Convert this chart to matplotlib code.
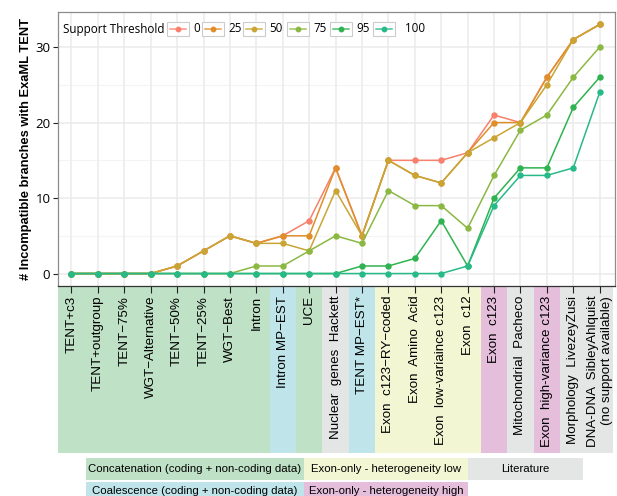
"""Incompatible branches vs. ExaML TENT, per data set and support threshold."""

import matplotlib
matplotlib.use("Agg")
import matplotlib.pyplot as plt
from matplotlib.patches import Rectangle
from matplotlib.lines import Line2D
from matplotlib.transforms import blended_transform_factory

# data sets, left to right
categories = [
    "TENT+c3", "TENT+outgroup", "TENT\u221275%", "WGT\u2212Alternative",
    "TENT\u221250%", "TENT\u221225%", "WGT\u2212Best", "Intron",
    "Intron MP\u2212EST", "UCE", "Nuclear  genes  Hackett", "TENT MP\u2212EST*",
    "Exon  c123\u2212RY\u2212coded", "Exon  Amino  Acid", "Exon  low-variaince c123",
    "Exon  c12", "Exon  c123", "Mitochondrial  Pacheco", "Exon  high-variance c123",
    "Morphology  LivezeyZusi", "DNA-DNA  SibleyAhlquist\n(no support available)",
]
# data type group of each data set
groups = [
    "conc", "conc", "conc", "conc", "conc", "conc", "conc", "conc",
    "coal", "conc", "lit", "coal", "low", "low", "low", "low",
    "high", "lit", "high", "lit", "lit",
]

thresholds = ["0", "25", "50", "75", "95", "100"]
t0 = [0, 0, 0, 0, 1, 3, 5, 4, 5, 7, 14, 5, 15, 15, 15, 16, 21, 20, 26, 31, 33]
t25 = [0, 0, 0, 0, 1, 3, 5, 4, 5, 5, 14, 5, 15, 13, 12, 16, 20, 20, 26, 31, 33]
t50 = [0, 0, 0, 0, 1, 3, 5, 4, 4, 3, 11, 5, 15, 13, 12, 16, 18, 20, 25, 31, 33]
t75 = [0, 0, 0, 0, 0, 0, 0, 1, 1, 3, 5, 4, 11, 9, 9, 6, 13, 19, 21, 26, 30]
t95 = [0, 0, 0, 0, 0, 0, 0, 0, 0, 0, 0, 1, 1, 2, 7, 1, 10, 14, 14, 22, 26]
t100 = [0, 0, 0, 0, 0, 0, 0, 0, 0, 0, 0, 0, 0, 0, 0, 1, 9, 13, 13, 14, 24]
series = [t0, t25, t50, t75, t95, t100]

line_colors = ["#F8806C", "#E08E2A", "#C9A535", "#8BB843", "#2FB350", "#27BA88"]
group_colors = {
    "conc": "#BFE1C6",
    "coal": "#BFE5EA",
    "lit": "#E4E5E5",
    "low": "#F3F6D3",
    "high": "#E5BEDC",
}
group_labels = [
    ("conc", "Concatenation (coding + non-coding data)"),
    ("low", "Exon-only - heterogeneity low"),
    ("lit", "Literature"),
    ("coal", "Coalescence (coding + non-coding data)"),
    ("high", "Exon-only - heterogeneity high"),
]

W, H = 617, 496


def fx(px):
    return px / W


def fy(py):
    return 1 - py / H


def main() -> None:
    fig = plt.figure(figsize=(W / 100, H / 100), dpi=100)
    ax = fig.add_axes([fx(58), fy(286), fx(615) - fx(58), fy(12) - fy(286)])

    x = list(range(1, len(categories) + 1))

    # grid
    for yv in [5, 15, 25]:
        ax.axhline(yv, color="#F4F4F4", lw=0.8, zorder=0)
    for yv in [0, 10, 20, 30]:
        ax.axhline(yv, color="#EBEBEB", lw=1.1, zorder=0)
    for xv in x:
        ax.axvline(xv, color="#EBEBEB", lw=1.1, zorder=0)

    for vals, col in zip(series, line_colors):
        ax.plot(x, vals, color=col, lw=1.1, marker="o", ms=3.6, mec=col, zorder=3)

    ax.set_xlim(0.49, 21.58)
    ax.set_ylim(-1.65, 34.65)
    ax.set_yticks([0, 10, 20, 30])
    ax.set_xticks(x)
    ax.set_xticklabels(categories, rotation=90, va="top", ha="center",
                       multialignment="right", family="Liberation Sans", fontsize=9.6)
    for lab in ax.get_yticklabels():
        lab.set_family("Open Sans")
        lab.set_fontsize(9.5)
    ax.tick_params(axis="x", length=5, width=0.8, pad=2, color="#222222")
    ax.tick_params(axis="y", length=3.5, width=0.8, pad=2, color="#222222")
    for side in ["top", "right", "left"]:
        ax.spines[side].set_color("#8C8C8C")
        ax.spines[side].set_linewidth(0.9)
    ax.spines["bottom"].set_color("#333333")
    ax.spines["bottom"].set_linewidth(0.9)

    ax.set_ylabel("# Incompatible branches with ExaML TENT", family="Liberation Sans",
                  fontweight="bold", fontsize=9.3, va="center")
    ax.yaxis.set_label_coords((26 - 58) / (615 - 58), 0.5)

    # coloured bands behind x labels
    band_h = (453 - 286) / (286 - 12)
    trans = blended_transform_factory(ax.transData, ax.transAxes)
    for xi, g in zip(x, groups):
        ax.add_patch(Rectangle((xi - 0.5, -band_h), 1, band_h, transform=trans,
                               facecolor=group_colors[g], edgecolor="none",
                               clip_on=False, zorder=-5))

    # support threshold legend
    fig.text(fx(63), fy(29), "Support Threshold", family="Open Sans", fontsize=8.4,
             va="center", ha="left")
    key_left = [167, 202, 243, 287, 330, 373]
    for kx, lab, col in zip(key_left, thresholds, line_colors):
        fig.patches.append(Rectangle((fx(kx), fy(36)), fx(22), fy(22) - fy(36),
                                     transform=fig.transFigure, facecolor="white",
                                     edgecolor="#CCCCCC", lw=0.8))
        fig.lines.append(Line2D([fx(kx + 3), fx(kx + 19)], [fy(29), fy(29)],
                                transform=fig.transFigure, color=col, lw=1.1,
                                alpha=0.85))
        fig.lines.append(Line2D([fx(kx + 11)], [fy(29)], transform=fig.transFigure,
                                color=col, marker="o", ms=3.2, lw=0))
        fig.text(fx(kx + 26 + (6 if lab == "100" else 0)), fy(29), lab,
                 family="Open Sans", fontsize=8.4, va="center", ha="left")

    # data type legend
    boxes = [(86, 304, 458, 480), (304, 468, 458, 480), (468, 583, 458, 480),
             (86, 304, 482, 504), (304, 468, 482, 504)]
    for (g, txt), (x0, x1, y0, y1) in zip(group_labels, boxes):
        fig.patches.append(Rectangle((fx(x0), fy(y1)), fx(x1 - x0), fy(y0) - fy(y1),
                                     transform=fig.transFigure,
                                     facecolor=group_colors[g], edgecolor="none"))
        fig.text(fx((x0 + x1) / 2), fy((y0 + y1) / 2 - (2 if y0 > 470 else 0)), txt,
                 family="Liberation Sans", fontsize=8.2, ha="center", va="center")

    fig.savefig("out.png", dpi=100)
    plt.close(fig)


if __name__ == "__main__":
    main()
